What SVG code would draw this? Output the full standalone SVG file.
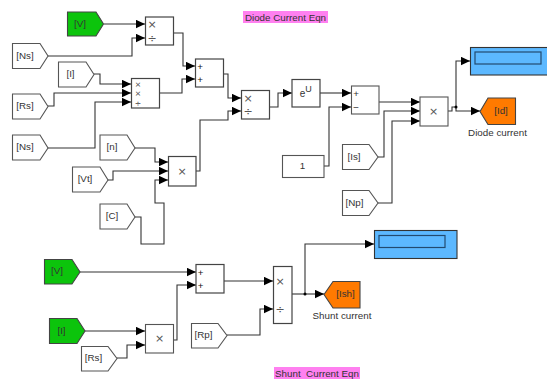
<svg xmlns="http://www.w3.org/2000/svg" width="547" height="383" viewBox="0 0 547 383">
<style>
text{font-family:"Liberation Sans",Arial,sans-serif;font-size:9.8px;fill:#333;text-anchor:middle}
.b{fill:#fff;stroke:#444;stroke-width:1.2}
.w{fill:#fff;stroke:#555;stroke-width:1.1}
.g{fill:#0cc40c;stroke:#444;stroke-width:1.1}
.o{fill:#ff7a00;stroke:#444;stroke-width:1.1}
.d{fill:#5cb8ff;stroke:#333;stroke-width:1.1}
.di{fill:#5cb8ff;stroke:#224a70;stroke-width:1.2}
.p{fill:#ff80f0}
.s{font-family:"DejaVu Sans",sans-serif;font-size:11px;fill:#555}
.t{font-family:"DejaVu Sans",sans-serif;font-size:7.7px;fill:#444}
.k{fill:#111}
.c{fill:none;stroke:#333;stroke-width:1.1;marker-end:url(#a)}
.n{fill:none;stroke:#333;stroke-width:1.1}
</style>
<defs><marker id="a" markerUnits="userSpaceOnUse" markerWidth="9" markerHeight="9" refX="9" refY="4.5" orient="auto"><path d="M0,0.3 L9,4.5 L0,8.7 Z" fill="#000"/></marker></defs>
<g id="connectors">
<path class="c" d="M104,24H145"/>
<path class="c" d="M48,56H132V38H145"/>
<path class="c" d="M94,74H100V84H131"/>
<path class="c" d="M48,106H54V93H131"/>
<path class="c" d="M48,148H95V102H131"/>
<path class="c" d="M135,148H155V162H168"/>
<path class="c" d="M108,180H113V171H168"/>
<path class="c" d="M135,217H141V244H164V203H155V180H168"/>
<path class="c" d="M173,33H183V66H195"/>
<path class="c" d="M159,93H182V79H195"/>
<path class="c" d="M223,74H228V98H241"/>
<path class="c" d="M196,171H200V120H228V111H241"/>
<path class="c" d="M269,107H278V93H292"/>
<path class="c" d="M320,93H351"/>
<path class="c" d="M324,166H329V107H351"/>
<path class="c" d="M379,102H420"/>
<path class="c" d="M378,157H384V111H420"/>
<path class="c" d="M378,203H392V121H420"/>
<path class="n" d="M448,111H452V107H456"/>
<path class="c" d="M456,107V61H470"/>
<path class="c" d="M456,107V111H480"/>
<circle cx="456" cy="107" r="1.5" fill="#000"/>
<path class="c" d="M80,272H196"/>
<path class="c" d="M85,331H145"/>
<path class="c" d="M117,358H127V345H145"/>
<path class="c" d="M173,340H177V285H196"/>
<path class="c" d="M224,281H273"/>
<path class="c" d="M227,335H260V309H273"/>
<path class="c" d="M292,294H324"/>
<path class="c" d="M305,294V244H374"/>
<circle cx="305" cy="294" r="1.5" fill="#000"/>
</g>
<g id="title-diode"><rect class="p" x="243" y="11" width="85" height="12"/><text x="285.500" y="20.500">Diode Current Eqn</text></g>
<g id="title-shunt"><rect class="p" x="274" y="367" width="86" height="12"/><text x="317" y="376.500">Shunt&#160; Current Eqn</text></g>
<g id="from-v"><path class="g" d="M67.500,12H96L103.500,24L96,36H67.500Z"/><text x="80" y="26.500">[V]</text></g>
<g id="from-ns1"><path class="w" d="M12.500,43.500H40L48,56L40,68.500H12.500Z"/><text x="25" y="59">[Ns]</text></g>
<g id="from-i"><path class="w" d="M58.500,62H86L94,74.500L86,87H58.500Z"/><text x="70.500" y="77">[I]</text></g>
<g id="from-rs1"><path class="w" d="M12.500,94H40L48,106.500L40,119H12.500Z"/><text x="25" y="109">[Rs]</text></g>
<g id="from-ns2"><path class="w" d="M12.500,135H40L48,148L40,160H12.500Z"/><text x="25" y="150">[Ns]</text></g>
<g id="from-n"><path class="w" d="M100,135H127L135,148L127,160H100Z"/><text x="112" y="150">[n]</text></g>
<g id="from-vt"><path class="w" d="M72.500,167H100L108,180L100,192H72.500Z"/><text x="85" y="182">[Vt]</text></g>
<g id="from-c"><path class="w" d="M100,204H127L135,217L127,229H100Z"/><text x="112" y="219">[C]</text></g>
<g id="prod-a"><rect class="b" x="145.500" y="17" width="28" height="28"/><text class="s" x="152" y="28">×</text><text class="s" x="152" y="42">÷</text></g>
<g id="prod-b"><rect class="b" x="131.500" y="78.500" width="28" height="29.500"/><text class="t" x="138" y="87">×</text><text class="t" x="138" y="96">×</text><text class="t" x="138" y="105.500">÷</text></g>
<g id="sum-c"><rect class="b" x="195.500" y="59" width="28" height="28"/><text class="k" x="200" y="69.500">+</text><text class="k" x="200" y="83">+</text></g>
<g id="prod-d"><rect class="b" x="241.500" y="90.500" width="28" height="28.500"/><text class="s" x="248" y="101.500">×</text><text class="s" x="248" y="115">÷</text></g>
<g id="prod-e"><rect class="b" x="168.500" y="156.500" width="27.500" height="29.500"/><text class="s" x="182" y="175">×</text></g>
<g id="exp"><rect class="b" x="292" y="79.500" width="28" height="27.500"/><text x="302.500" y="97" style="font-size:10px">e</text><text x="308.500" y="92" style="font-size:9px">U</text></g>
<g id="sum-f"><rect class="w" x="351.500" y="86" width="27.500" height="28"/><text x="356" y="96.500">+</text><text x="356" y="110.500">−</text></g>
<g id="prod-g"><rect class="w" x="420" y="97" width="28" height="29"/><text class="s" x="433.500" y="115">×</text></g>
<g id="display-top"><rect class="d" x="470.500" y="47.500" width="78" height="27.500"/><rect class="di" x="475" y="52" width="66" height="12"/></g>
<g id="goto-id"><path class="o" d="M480,111.500L488,98H515.500V124.500H488Z"/><text x="501" y="113.500">[Id]</text></g>
<g id="diode-label"><text x="497.500" y="136">Diode current</text></g>
<g id="const-1"><rect class="w" x="282.500" y="155.500" width="41.500" height="22"/><text x="302.500" y="169">1</text></g>
<g id="from-is"><path class="w" d="M342.500,144.500H369L378,157L369,169.500H342.500Z"/><text x="354" y="159.500">[Is]</text></g>
<g id="from-np"><path class="w" d="M342.500,190.500H369L378,203L369,215.500H342.500Z"/><text x="354.500" y="205.500">[Np]</text></g>
<g id="display-bottom"><rect class="d" x="374.500" y="230.500" width="82.500" height="28"/><rect class="di" x="379" y="235.500" width="66" height="12"/></g>
<g id="from-v2"><path class="g" d="M44.500,259.500H72L80,272L72,284H44.500Z"/><text x="57" y="273.500">[V]</text></g>
<g id="from-i2"><path class="g" d="M49.500,318.500H77L85,331L77,343.500H49.500Z"/><text x="61.500" y="333.500">[I]</text></g>
<g id="from-rs2"><path class="w" d="M81.500,346.500H108L117,358.500L108,371H81.500Z"/><text x="93.500" y="361">[Rs]</text></g>
<g id="sum-bottom"><rect class="b" x="196" y="264.500" width="28" height="28.500"/><text class="k" x="200.500" y="275.500">+</text><text class="k" x="200.500" y="288.500">+</text></g>
<g id="prod-bottom"><rect class="w" x="145.500" y="324.500" width="28" height="28.500"/><text class="s" x="159.500" y="342">×</text></g>
<g id="from-rp"><path class="w" d="M191.500,323.500H218L227,335.500L218,348H191.500Z"/><text x="203.500" y="337.500">[Rp]</text></g>
<g id="prod-h"><rect class="b" x="273.500" y="266.500" width="18.500" height="57"/><text class="s" x="280" y="285">×</text><text class="s" x="280" y="313">÷</text></g>
<g id="goto-ish"><path class="o" d="M324,294.500L333,281.500H360V308H333Z"/><text x="345.500" y="297">[Ish]</text></g>
<g id="shunt-label"><text x="342" y="319">Shunt current</text></g>
</svg>
